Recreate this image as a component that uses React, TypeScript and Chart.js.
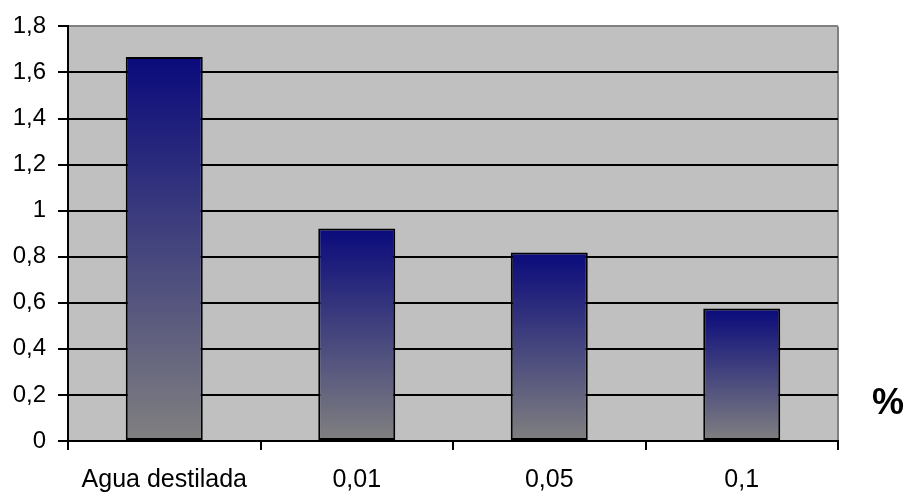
import { useEffect, useRef } from 'react'
import { Chart, registerables } from 'chart.js'

Chart.register(...registerables)

const categories = ['Agua destilada', '0,01', '0,05', '0,1']
const values = [1.667, 0.923, 0.818, 0.575]
const yMin = 0
const yMax = 1.8
const yStep = 0.2

const FONT = 'Arial, "Liberation Sans", sans-serif'

// grey plot background + grey right edge like the old spreadsheet chart
const plotBg = {
  id: 'plotBg',
  beforeDraw(chart: Chart) {
    const { ctx, chartArea: a } = chart
    ctx.save()
    ctx.fillStyle = '#c0c0c0'
    ctx.fillRect(a.left, a.top, a.right - a.left, a.bottom - a.top)
    ctx.strokeStyle = '#808080'
    ctx.lineWidth = 2
    ctx.beginPath()
    ctx.moveTo(a.right, a.top)
    ctx.lineTo(a.right, a.bottom)
    ctx.stroke()
    ctx.restore()
  },
}

function barFill(c: any) {
  const ch = c.chart
  const y = ch.scales?.y
  if (!y || c.raw == null) return '#1a1a80'
  const top = y.getPixelForValue(c.raw)
  const base = y.getPixelForValue(0)
  if (!isFinite(top) || !isFinite(base) || top === base) return '#1a1a80'
  const g = ch.ctx.createLinearGradient(0, top, 0, base)
  g.addColorStop(0, '#0a0a7c')
  g.addColorStop(1, '#808080')
  return g
}

export default function App() {
  const ref = useRef<HTMLCanvasElement>(null)

  useEffect(() => {
    if (!ref.current) return
    const chart = new Chart(ref.current, {
      type: 'bar',
      data: {
        labels: categories,
        datasets: [{
          data: values,
          backgroundColor: barFill,
          borderColor: '#000',
          borderWidth: 2,
          borderSkipped: false,
          categoryPercentage: 0.4,
          barPercentage: 1,
        }],
      },
      options: {
        animation: false,
        responsive: false,
        layout: { padding: { top: 24, right: 71, left: 0, bottom: 0 } },
        plugins: { legend: { display: false }, tooltip: { enabled: false } },
        scales: {
          x: {
            offset: true,
            grid: { offset: true, drawOnChartArea: false, drawTicks: true, tickLength: 9, tickColor: '#000', lineWidth: 2 },
            border: { display: true, color: '#000', width: 2 },
            ticks: { color: '#000', font: { family: FONT, size: 25 }, padding: 15, maxRotation: 0, autoSkip: false },
            afterFit: (s: any) => { s.height = 495 - 441 },
          },
          y: {
            min: yMin,
            max: yMax,
            grid: {
              color: (c: any) => (c.tick && Math.abs(c.tick.value - yMax) < 1e-6 ? '#808080' : '#000'),
              lineWidth: 2,
              tickLength: 10,
              tickColor: '#000',
            },
            border: { display: true, color: '#000', width: 2 },
            ticks: {
              stepSize: yStep,
              color: '#000',
              padding: 12,
              font: { family: FONT, size: 24 },
              callback: (v: any) => String(Math.round(Number(v) * 10) / 10).replace('.', ','),
            },
            afterFit: (s: any) => { s.width = 68 },
          },
        },
      },
      plugins: [plotBg],
    })
    chart.update()
    return () => chart.destroy()
  }, [])

  return (
    <div style={{ position: 'fixed', left: 0, top: 0, width: 909, height: 495, background: '#fff' }}>
      <canvas ref={ref} width={909} height={495} style={{ display: 'block' }} />
      <div style={{ position: 'absolute', left: 872, top: 381, fontFamily: FONT, fontWeight: 'bold', fontSize: 36, lineHeight: 1.15, color: '#000' }}>%</div>
    </div>
  )
}
